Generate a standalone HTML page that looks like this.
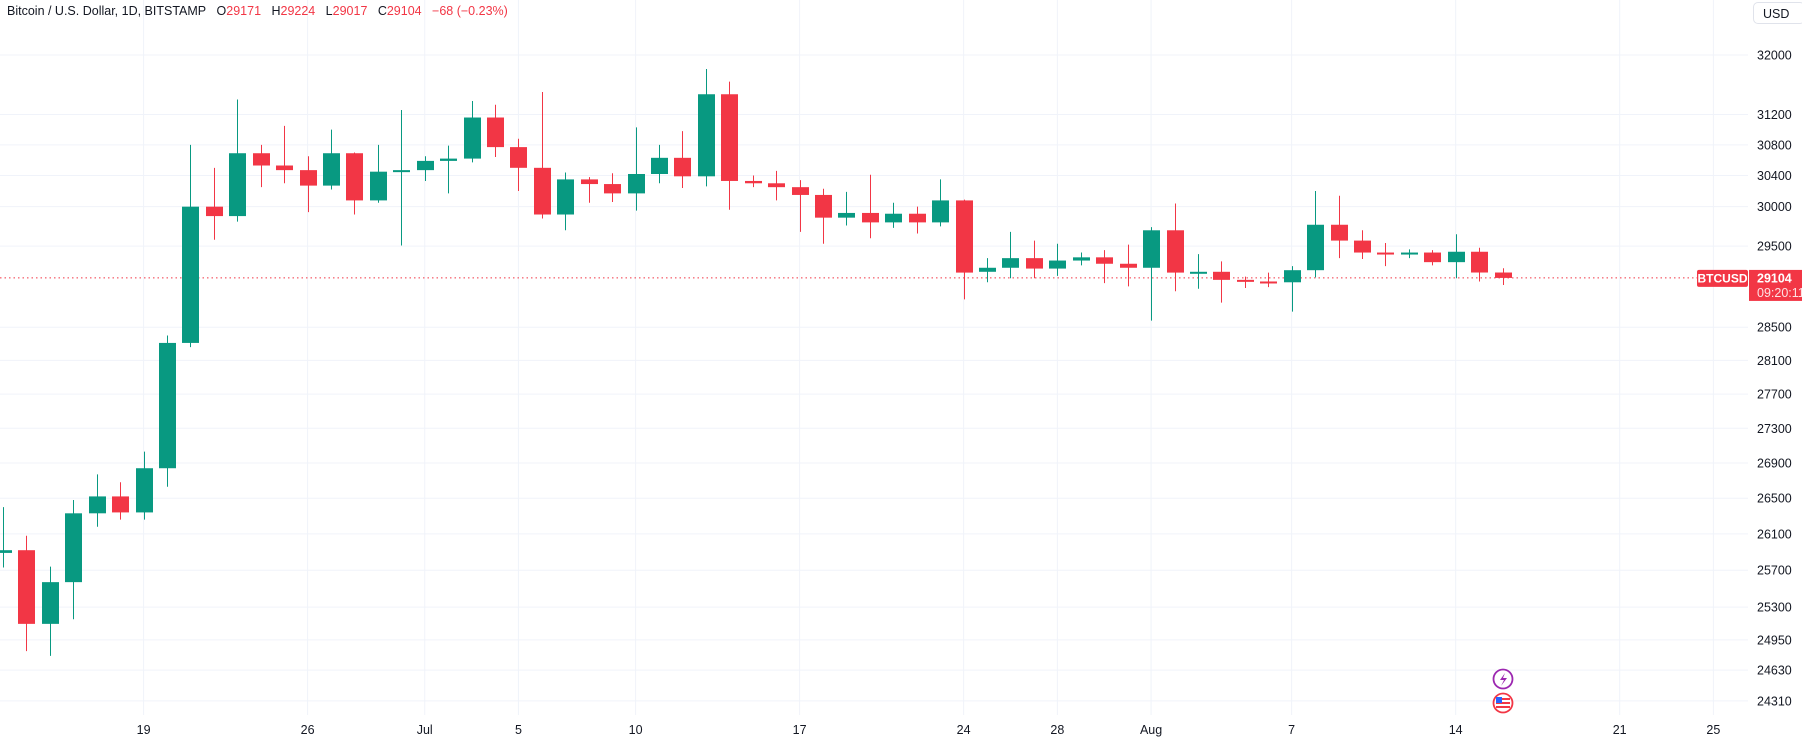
<!DOCTYPE html>
<html><head><meta charset="utf-8">
<style>
html,body{margin:0;padding:0;background:#fff;}
body{width:1802px;height:744px;overflow:hidden;position:relative;font-family:"Liberation Sans",sans-serif;}
#hdr{position:absolute;left:7px;top:4px;font-size:12.5px;color:#131722;white-space:nowrap;}
#hdr .v{color:#f23645;}
#usd{position:absolute;left:1753px;top:2px;width:52px;height:22px;border:1px solid #e0e3eb;border-radius:5px;font-size:12.5px;color:#131722;line-height:22px;padding-left:9px;box-sizing:border-box;}
svg{position:absolute;left:0;top:0;}
</style></head><body>
<svg id="chart" width="1802" height="744"></svg>
<div id="hdr">Bitcoin / U.S. Dollar, 1D, BITSTAMP&nbsp;&nbsp;&nbsp;O<span class="v">29171</span>&nbsp;&nbsp;&nbsp;H<span class="v">29224</span>&nbsp;&nbsp;&nbsp;L<span class="v">29017</span>&nbsp;&nbsp;&nbsp;C<span class="v">29104</span>&nbsp;&nbsp;&nbsp;<span class="v">−68 (−0.23%)</span></div>
<div id="usd">USD</div>
<script>
// Candles from Jun 13, 2023 (one per day)
const opens  = [25890,25920,25120,25570,26330,26520,26340,26840,28310,30000,29880,30690,30530,30470,30270,30690,30080,30450,30470,30590,30620,31160,30770,30500,29900,30350,30290,30170,30420,30630,30390,31470,30330,30300,30250,30150,29860,29920,29800,29910,29800,30080,29180,29230,29350,29220,29320,29360,29280,29230,29700,29170,29180,29080,29060,29050,29200,29770,29570,29420,29400,29420,29300,29430,29171];
const highs  = [26400,26080,25740,26480,26770,26680,27030,28400,30800,30500,31400,30800,31050,30650,31000,30700,30800,31260,30650,30790,31380,31330,30880,31500,30440,30380,30430,31030,30800,30980,31810,31640,30400,30460,30340,30230,30190,30410,30050,30000,30350,30090,29350,29680,29570,29530,29420,29450,29520,29740,30040,29400,29310,29120,29170,29250,30200,30140,29700,29540,29460,29450,29650,29480,29224];
const lows   = [25730,24830,24780,25170,26180,26260,26260,26630,28260,29580,29810,30250,30300,29930,30220,29900,30050,29508,30330,30170,30570,30640,30200,29850,29700,30050,30060,29950,30300,30240,30260,29960,30250,30080,29680,29530,29760,29600,29730,29660,29750,28840,29050,29100,29100,29130,29260,29040,29000,28580,28940,28970,28800,28980,28990,28690,29110,29350,29340,29250,29350,29260,29100,29060,29017];
const closes = [25920,25120,25570,26330,26520,26340,26840,28310,30000,29880,30690,30530,30470,30270,30690,30080,30450,30470,30590,30620,31160,30770,30500,29900,30350,30290,30170,30420,30630,30390,31470,30330,30300,30250,30150,29860,29920,29800,29910,29800,30080,29170,29230,29350,29220,29320,29360,29280,29230,29700,29170,29180,29080,29060,29050,29200,29770,29570,29420,29400,29420,29300,29430,29171,29104];
const priceTicks = [32000,31200,30800,30400,30000,29500,28500,28100,27700,27300,26900,26500,26100,25700,25300,24950,24630,24310];
const dateLabels = ["19","26","Jul","5","10","17","24","28","Aug","7","14","21","25"];
const dateOffsets = [6,13,18,22,27,34,41,45,49,55,62,69,73];
const lastPrice = 29104;

const NS="http://www.w3.org/2000/svg";
const svg=document.getElementById('chart');
const PLOT_R=1748, PLOT_B=715;
function y(p){return 55+2350*Math.log(32000/p);}
function x(i){return 3+i*23.43;}
function mk(tag,attrs,parent){const e=document.createElementNS(NS,tag);for(const k in attrs)e.setAttribute(k,attrs[k]);(parent||svg).appendChild(e);return e;}

const grid=mk('g',{});


priceTicks.forEach(p=>{
  const l=mk('line',{x1:0,x2:PLOT_R,y1:y(p),y2:y(p),stroke:'#f0f3fa','stroke-width':1},grid);
  
  
});
dateOffsets.forEach(d=>{
  const l=mk('line',{x1:x(d),x2:x(d),y1:0,y2:PLOT_B,stroke:'#f0f3fa','stroke-width':1},grid);
  
  
});

const pl=mk('line',{x1:0,x2:1697,y1:y(lastPrice),y2:y(lastPrice),stroke:'#f23645','stroke-width':1,'stroke-dasharray':'1.5 3'});



const cg=mk('g',{});


for(let i=0;i<opens.length;i++){
  const o=opens[i],h=highs[i],l=lows[i],c=closes[i];
  const col=c>=o?'#089981':'#f23645';
  const g=mk('g',{},cg);
  
  
  const cx=Math.round(x(i))+0.5;
  mk('line',{x1:cx,x2:cx,y1:y(h),y2:y(l),stroke:col,'stroke-width':1},g);
  const top=y(Math.max(o,c)),bot=y(Math.min(o,c));
  mk('rect',{x:cx-8.5,y:top,width:17,height:Math.max(bot-top,2),fill:col},g);
}

const ya=mk('g',{'font-family':'Liberation Sans, sans-serif','font-size':'12.5',fill:'#131722'});


priceTicks.forEach(p=>{
  const t=mk('text',{x:1757,y:y(p)+4.5},ya);t.textContent=p;
  
  
});
const xa=mk('g',{'font-family':'Liberation Sans, sans-serif','font-size':'12.5',fill:'#131722','text-anchor':'middle'});


dateLabels.forEach((s,k)=>{
  const t=mk('text',{x:x(dateOffsets[k]),y:734},xa);t.textContent=s;
  
  
});

const yl=y(lastPrice);
const sb=mk('g',{});


mk('rect',{x:1697,y:yl-8,width:51,height:17,rx:2,fill:'#f23645'},sb);
const st=mk('text',{x:1722.5,y:yl+4.5,'text-anchor':'middle','font-family':'Liberation Sans, sans-serif','font-size':'12',fill:'#fff','font-weight':'bold'},sb);st.textContent='BTCUSD';
const pb=mk('g',{});


mk('rect',{x:1749,y:yl-8,width:53,height:31,fill:'#f23645'},pb);
const t1=mk('text',{x:1757,y:yl+4.5,'font-family':'Liberation Sans, sans-serif','font-size':'12.5',fill:'#fff','font-weight':'bold'},pb);t1.textContent=String(lastPrice);
const t2=mk('text',{x:1757,y:yl+19,'font-family':'Liberation Sans, sans-serif','font-size':'12.5',fill:'#fde0e3'},pb);t2.textContent='09:20:11';

const ev1=mk('g',{});


mk('circle',{cx:1503,cy:679,r:9.5,fill:'#fff',stroke:'#9c27b0','stroke-width':1.8},ev1);
mk('path',{d:'M1505 673 L1500 680 L1504 680 L1501 686 L1507 678 L1503 678 Z',fill:'#9c27b0'},ev1);
const ev2=mk('g',{});


mk('circle',{cx:1503,cy:703,r:9.5,fill:'#fff',stroke:'#f23645','stroke-width':1.8},ev2);
mk('rect',{x:1496,y:698,width:14,height:2,fill:'#f23645'},ev2);
mk('rect',{x:1496,y:702,width:14,height:2,fill:'#f23645'},ev2);
mk('rect',{x:1496,y:706,width:14,height:2,fill:'#f23645'},ev2);
mk('rect',{x:1496,y:697,width:6,height:6,fill:'#2962ff'},ev2);
</script>
</body></html>
